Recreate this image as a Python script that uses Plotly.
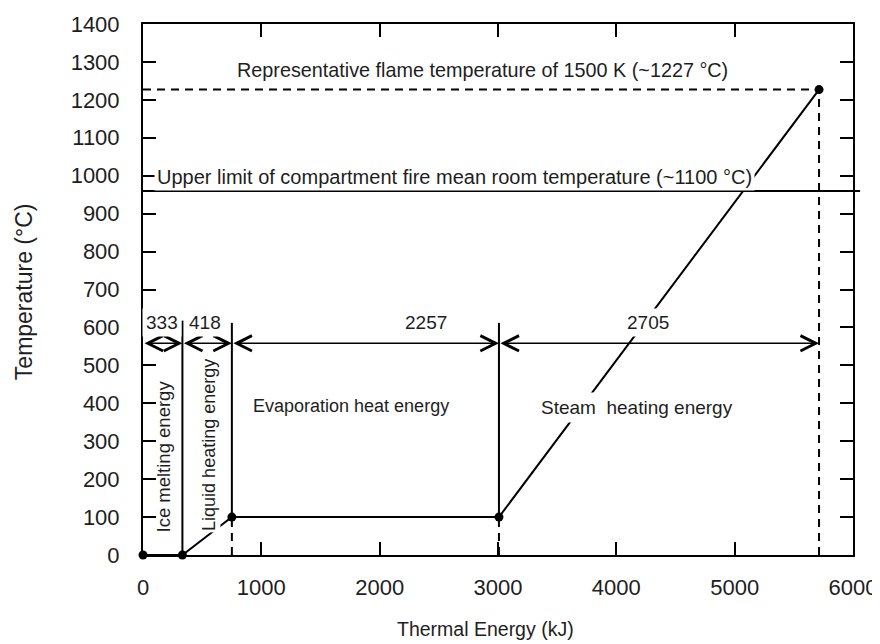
import plotly.graph_objects as go

# ---- data -------------------------------------------------------------
energy_points = [0, 333, 751, 3008, 5713]        # kJ, phase boundaries
temp_points = [0, 0, 100, 100, 1227]             # °C
segment_labels = ["333", "418", "2257", "2705"]  # energy per phase (kJ)
segment_label_x = [161, 525, 2390, 4271]         # where each number sits
flame_temp = 1227                                # representative flame temp
room_limit_level = 960                           # drawn level of the room-limit line
phase_top = [618, 612, 612]                      # top of vertical phase lines (x=333, 751, 3008)
arrow_level = 558                                # level of dimension arrows
label_level = 613                                # level of dimension numbers

x_ticks = [0, 1000, 2000, 3000, 4000, 5000, 6000]
y_ticks = list(range(0, 1401, 100))

FONT = "Liberation Sans, Arial, sans-serif"
TXT = "#1e1e1e"

fig = go.Figure()

# main heating curve
fig.add_trace(go.Scatter(
    x=energy_points, y=temp_points, mode="lines+markers",
    line=dict(color="black", width=2),
    marker=dict(color="black", size=9),
    cliponaxis=False, showlegend=False, hoverinfo="skip"))

# vertical solid phase lines
fig.add_trace(go.Scatter(
    x=[energy_points[1], energy_points[1], None,
       energy_points[2], energy_points[2], None,
       energy_points[3], energy_points[3]],
    y=[temp_points[1], phase_top[0], None,
       temp_points[2], phase_top[1], None,
       temp_points[3], phase_top[2]],
    mode="lines", line=dict(color="black", width=2),
    showlegend=False, hoverinfo="skip"))

# dashed guide lines
fig.add_trace(go.Scatter(
    x=[energy_points[2], energy_points[2], None,
       energy_points[3], energy_points[3], None,
       energy_points[4], energy_points[4], None,
       0, energy_points[4]],
    y=[0, temp_points[2], None,
       0, temp_points[3], None,
       0, flame_temp, None,
       flame_temp, flame_temp],
    mode="lines", line=dict(color="black", width=2, dash="8px,6px"),
    showlegend=False, hoverinfo="skip"))

# room temperature upper limit line
fig.add_shape(type="line", xref="paper", yref="y", x0=0, x1=1.01,
              y0=room_limit_level, y1=room_limit_level,
              line=dict(color="black", width=2))

# dimension arrows
for i, lab in enumerate(segment_labels):
    x0, x1 = energy_points[i], energy_points[i + 1]
    fig.add_annotation(x=x1, y=arrow_level, ax=x0, ay=arrow_level,
                       xref="x", yref="y", axref="x", ayref="y",
                       text="", showarrow=True, arrowside="end+start",
                       arrowhead=5, arrowsize=2.0, arrowwidth=1.5,
                       arrowcolor="black", standoff=0, startstandoff=0)
    fig.add_annotation(x=segment_label_x[i], y=label_level, text=lab,
                       showarrow=False, font=dict(family=FONT, size=19, color=TXT),
                       bgcolor="white", borderpad=3)

# text labels
fig.add_annotation(x=2865, y=1279, text="Representative flame temperature of 1500 K (~1227 °C)",
                   showarrow=False, font=dict(family=FONT, size=19.8, color=TXT))
fig.add_annotation(x=95, y=997, xanchor="left",
                   text="Upper limit of compartment fire mean room temperature (~1100 °C)",
                   showarrow=False, font=dict(family=FONT, size=20, color=TXT),
                   bgcolor="white", borderpad=2)
fig.add_annotation(x=1754, y=392, text="Evaporation heat energy",
                   showarrow=False, font=dict(family=FONT, size=18, color=TXT))
fig.add_annotation(x=4178, y=390, text="Steam  heating energy",
                   showarrow=False, font=dict(family=FONT, size=19, color=TXT),
                   bgcolor="white", borderpad=4)
fig.add_annotation(x=170, y=260, text="Ice melting energy", textangle=-90,
                   showarrow=False, font=dict(family=FONT, size=18.5, color=TXT))
fig.add_annotation(x=557, y=290, text="Liquid heating energy", textangle=-90,
                   showarrow=False, font=dict(family=FONT, size=18, color=TXT),
                   bgcolor="white", borderpad=1)

# axis titles
fig.add_annotation(xref="paper", yref="paper", x=0.482, y=-0.139,
                   xanchor="center", yanchor="middle",
                   text="Thermal Energy (kJ)", showarrow=False,
                   font=dict(family=FONT, size=19.5, color=TXT))
fig.add_annotation(xref="paper", yref="paper", x=-0.1676, y=0.495,
                   xanchor="center", yanchor="middle",
                   text="Temperature (°C)", textangle=-90, showarrow=False,
                   font=dict(family=FONT, size=23, color=TXT))

axis_common = dict(
    showgrid=False, zeroline=False, showline=True, linecolor="black", linewidth=2,
    mirror="ticks", ticks="inside", ticklen=13, tickwidth=2, tickcolor="black",
    tickfont=dict(family=FONT, size=22, color=TXT), automargin=False,
)

# page body adds an 8px offset, so the figure is sized/margined to compensate
fig.update_layout(
    width=872, height=636,
    margin=dict(l=135, r=27, t=16, b=89),
    paper_bgcolor="white", plot_bgcolor="white",
    xaxis=dict(range=[0, 6000], tickvals=x_ticks, ticktext=[str(v) for v in x_ticks],
               ticklabelstandoff=12, **axis_common),
    yaxis=dict(range=[0, 1400], tickvals=y_ticks, ticktext=[str(v) for v in y_ticks],
               ticklabelstandoff=17, **axis_common),
)

fig.write_html("out.html")
